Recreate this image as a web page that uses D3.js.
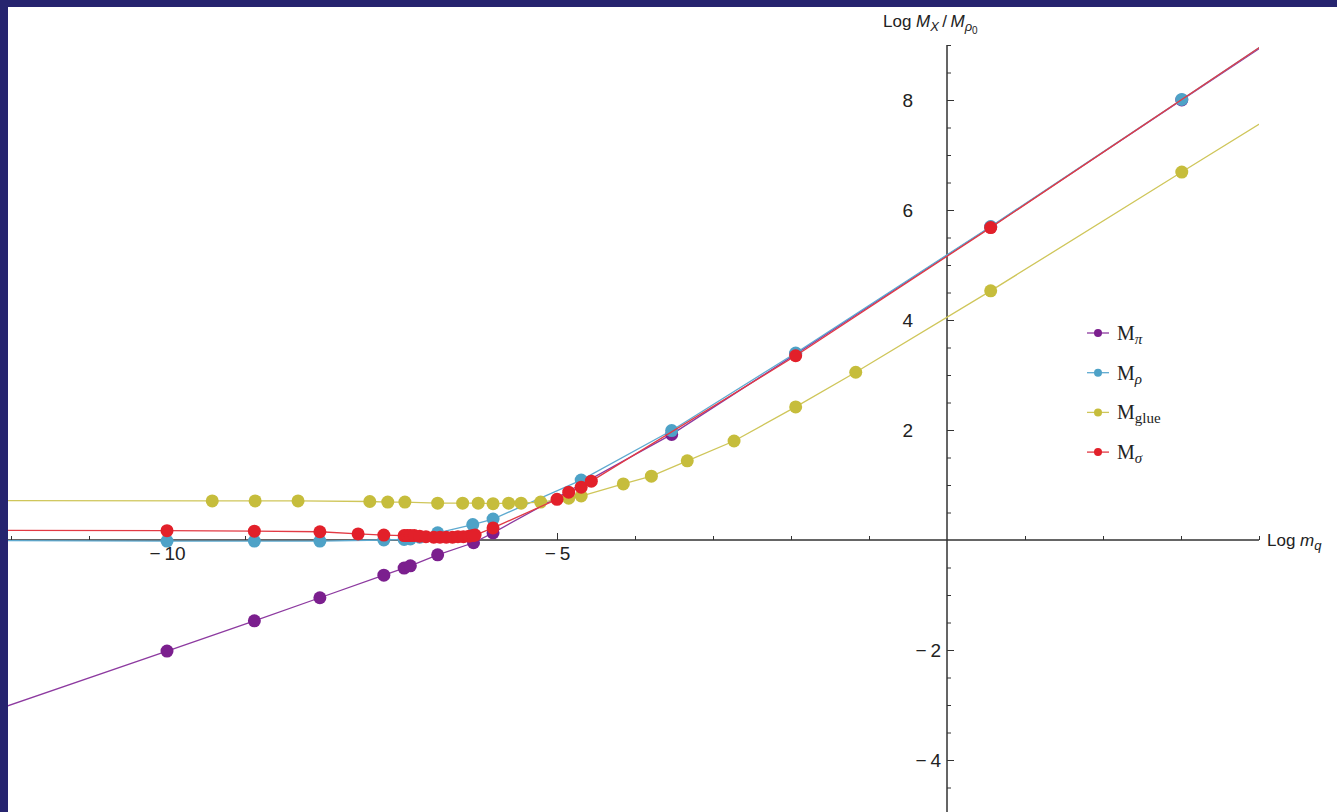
<!DOCTYPE html>
<html>
<head>
<meta charset="utf-8">
<script src="https://cdn.jsdelivr.net/npm/d3@7"></script>
<style>
  body { margin: 0; background: #26246f; }
  svg { display: block; }
</style>
</head>
<body>
<script>
// log(m_q) vs log(M_X / M_rho0)
var piPts = [[-14, -3.97], [-10, -2.02], [-8.88, -1.47], [-8.04, -1.05], [-7.22, -0.64], [-6.96, -0.51],
  [-6.88, -0.47], [-6.53, -0.27], [-6.07, -0.05], [-5.82, 0.13], [-3.53, 1.92], [-1.94, 3.38],
  [0.56, 5.69], [3.01, 8.0], [5, 9.87]];
var rhoPts = [[-14, 0.0], [-10, -0.02], [-8.88, -0.02], [-8.04, -0.02], [-7.22, 0.0], [-6.96, 0.01],
  [-6.88, 0.02], [-6.76, 0.05], [-6.53, 0.13], [-6.08, 0.28], [-5.82, 0.38], [-4.69, 1.09],
  [-3.53, 1.99], [-1.94, 3.4], [0.56, 5.7], [3.01, 8.01], [5, 9.9]];
var gluePts = [[-14, 0.72], [-9.42, 0.71], [-8.87, 0.71], [-8.32, 0.71], [-7.4, 0.7], [-7.17, 0.69],
  [-6.95, 0.69], [-6.53, 0.67], [-6.21, 0.67], [-6.01, 0.67], [-5.82, 0.66], [-5.62, 0.67],
  [-5.46, 0.67], [-5.21, 0.69], [-4.85, 0.76], [-4.69, 0.8], [-4.15, 1.02], [-3.79, 1.16],
  [-3.33, 1.44], [-2.73, 1.8], [-1.94, 2.42], [-1.17, 3.05], [0.56, 4.53], [3.01, 6.69], [5, 8.44]];
var sigmaPts = [[-14, 0.18], [-10, 0.17], [-8.88, 0.16], [-8.04, 0.15], [-7.55, 0.11], [-7.22, 0.09],
  [-6.96, 0.08], [-6.92, 0.08], [-6.88, 0.08], [-6.83, 0.08], [-6.76, 0.07], [-6.68, 0.06],
  [-6.58, 0.05], [-6.5, 0.05], [-6.42, 0.05], [-6.34, 0.05], [-6.27, 0.06], [-6.2, 0.06],
  [-6.13, 0.07], [-6.08, 0.08], [-6.05, 0.09], [-5.82, 0.22], [-5.0, 0.74], [-4.85, 0.87],
  [-4.69, 0.96], [-4.56, 1.07], [-1.94, 3.35], [0.56, 5.68], [5, 9.9]];

var seriesNames = ["\u03c0", "\u03c1", "glue", "\u03c3"];
var seriesColors = ["#7b1f8e", "#4ea2c7", "#c6bd3c", "#e2202a"];
var lineColors = ["#8d3aa0", "#5eaad0", "#cfc65a", "#e23a44"];
var seriesData = [piPts, rhoPts, gluePts, sigmaPts];

var xMajor = [-10, -5];
var xMinor = [-12, -11, -9, -8, -7, -6, -4, -3, -2, -1, 1, 2, 3, 4];
var yMajor = [-4, -2, 2, 4, 6, 8];
var yMinor = d3.range(-5, 9.01, 0.5).filter(function(v){ return v !== 0 && v % 2 !== 0; });

var W = 1337, H = 812;
var svg = d3.select("body").append("svg").attr("width", W).attr("height", H);
svg.append("rect").attr("x", 8).attr("y", 7).attr("width", W - 8).attr("height", H - 7).attr("fill", "#fff");

var x = d3.scaleLinear().domain([-12, 4]).range([11, 1259]);
var y = d3.scaleLinear().domain([-5, 9]).range([815, 45]);

svg.append("clipPath").attr("id", "plotClip")
  .append("rect").attr("x", 8).attr("y", y(9)).attr("width", x(4) - 8).attr("height", H - y(9));

// axes
var fontAx = "'Liberation Sans', Arial, sans-serif";
var xAxisG = svg.append("g").attr("transform", "translate(0," + y(0) + ")");
xAxisG.call(d3.axisBottom(x).tickValues(xMinor).tickSizeInner(-4).tickSizeOuter(0).tickFormat(""));
xAxisG.append("g").call(d3.axisBottom(x).tickValues(xMajor).tickSizeInner(-7).tickSizeOuter(0)
  .tickPadding(7).tickFormat(function(d){ return "\u2212\u2009" + Math.abs(d); }));
xAxisG.selectAll("path.domain").attr("stroke", "#333").attr("d", "M" + 8 + ",0H" + x(4));

var yAxisG = svg.append("g").attr("transform", "translate(" + x(0) + ",0)");
yAxisG.call(d3.axisLeft(y).tickValues(yMinor).tickSizeInner(-4).tickSizeOuter(0).tickFormat(""));
yAxisG.append("g").call(d3.axisLeft(y).tickValues(yMajor).tickSizeInner(-7).tickSizeOuter(0)
  .tickPadding(6).tickFormat(function(d){ return d < 0 ? "\u2212\u2009" + Math.abs(d) : d; }));
yAxisG.selectAll("path.domain").attr("stroke", "#333").attr("d", "M0," + y(9) + "V" + H);
// positive labels sit further left in the original
yAxisG.selectAll(".tick text").filter(function(d){ return d > 0; }).attr("x", -34);

svg.selectAll(".tick line").attr("stroke", "#333");
svg.selectAll(".tick text").attr("font-family", fontAx).attr("font-size", 19).attr("fill", "#222");

// axis labels
var yl = svg.append("text").attr("x", 883).attr("y", 27).attr("font-family", fontAx)
  .attr("font-size", 17).attr("fill", "#222");
yl.append("tspan").text("Log ");
yl.append("tspan").attr("font-style", "italic").text("M");
yl.append("tspan").attr("font-style", "italic").attr("font-size", 13).attr("dy", 4).text("X");
yl.append("tspan").attr("dy", -4).text("\u2009/\u2009");
yl.append("tspan").attr("font-style", "italic").text("M");
yl.append("tspan").attr("font-style", "italic").attr("font-size", 13).attr("dy", 4).text("\u03c1");
yl.append("tspan").attr("font-size", 10).attr("dy", 3).text("0");

var xl = svg.append("text").attr("x", 1267).attr("y", 546).attr("font-family", fontAx)
  .attr("font-size", 17).attr("fill", "#222");
xl.append("tspan").text("Log ");
xl.append("tspan").attr("font-style", "italic").text("m");
xl.append("tspan").attr("font-style", "italic").attr("font-size", 13).attr("dy", 4).text("q");

// series
var plot = svg.append("g").attr("clip-path", "url(#plotClip)");
var line = d3.line().x(function(d){ return x(d[0]); }).y(function(d){ return y(d[1]); });

seriesData.forEach(function(pts, i) {
  var g = plot.append("g");
  g.append("path").datum(pts).attr("d", line).attr("fill", "none")
    .attr("stroke", lineColors[i]).attr("stroke-width", 1.3);
  g.selectAll("circle").data(pts).enter().append("circle")
    .attr("cx", function(d){ return x(d[0]); })
    .attr("cy", function(d){ return y(d[1]); })
    .attr("r", 6.5).attr("fill", seriesColors[i]);
});

// legend
var legend = svg.append("g");
seriesNames.forEach(function(name, i) {
  var ly = 333 + i * 39.7;
  legend.append("line").attr("x1", 1087).attr("x2", 1109).attr("y1", ly).attr("y2", ly)
    .attr("stroke", lineColors[i]).attr("stroke-width", 1.3);
  legend.append("circle").attr("cx", 1098).attr("cy", ly).attr("r", 4).attr("fill", seriesColors[i]);
  var t = legend.append("text").attr("x", 1117).attr("y", ly + 7)
    .attr("font-family", "'Liberation Serif', 'Times New Roman', serif").attr("font-size", 20).attr("fill", "#222");
  t.append("tspan").text("M");
  t.append("tspan").attr("font-size", 15).attr("dy", 4)
    .attr("font-style", name === "glue" ? "normal" : "italic").text(name);
});
</script>
</body>
</html>
